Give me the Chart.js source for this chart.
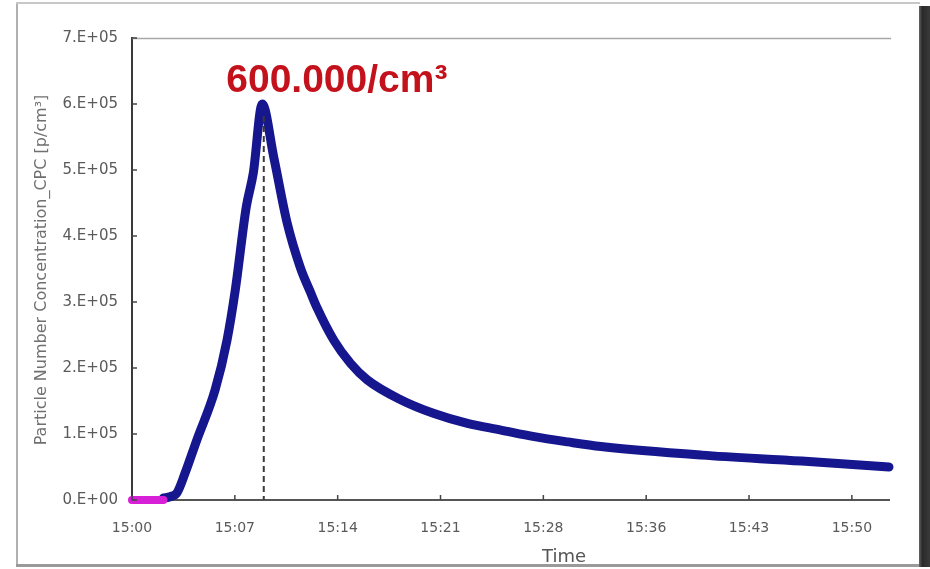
<!DOCTYPE html>
<html>
<head>
<meta charset="utf-8">
<script src="https://cdn.jsdelivr.net/npm/chart.js@4.4.1/dist/chart.umd.min.js"></script>
<style>
  html, body { margin: 0; padding: 0; background: #fff; }
  #wrap { width: 930px; height: 569px; position: relative; }
</style>
</head>
<body>
<div id="wrap"><canvas id="c" width="930" height="569"></canvas></div>
<script>
// Time is given in minutes after 15:00, concentration in particles per cm³.
const baselineMinutes = [0, 0.7, 1.4, 2.2];
const baselineValues  = [0, 0, 0, 0];

const minutes = [2.2, 2.67, 3.14, 3.72, 4.54, 5.82, 6.65, 7.23, 8.0, 8.49, 9.12,
                 9.92, 10.86, 11.79, 12.49, 12.96, 14.13, 15.30, 16.47, 18.81, 21.15, 23.49,
                 25.83, 28.16, 30.51, 32.84, 39.86, 46.88, 53.0];
const concentration = [3000, 5000, 10600, 41000, 91000, 167000, 242000, 318000, 444000, 495000, 600000,
                       520000, 420000, 352000, 315000, 291000, 242000, 207000, 182000, 152000, 131000, 116000,
                       106000, 96000, 88000, 81000, 68000, 59000, 50000];

const timeTickMinutes = [0, 7.2, 14.4, 21.6, 28.8, 36, 43.2, 50.4];
const timeTickLabels  = ['15:00', '15:07', '15:14', '15:21', '15:28', '15:36', '15:43', '15:50'];
const yTickLabels     = ['0.E+00', '1.E+05', '2.E+05', '3.E+05', '4.E+05', '5.E+05', '6.E+05', '7.E+05'];

const peakIndex = concentration.indexOf(Math.max(...concentration));
const peakMinute = minutes[peakIndex];
const peakValue = concentration[peakIndex];
const peakLabel = peakValue.toLocaleString('de-DE') + '/cm³';

const toPoints = (xs, ys) => xs.map((x, i) => ({ x: x, y: ys[i] }));

const decorations = {
  id: 'decorations',
  beforeDraw(chart) {
    const ctx = chart.ctx;
    ctx.save();
    ctx.fillStyle = '#ffffff';
    ctx.fillRect(0, 0, chart.width, chart.height);
    ctx.restore();
  },
  afterDatasetsDraw(chart) {
    const ctx = chart.ctx;
    const xs = chart.scales.x, ys = chart.scales.y;
    const area = chart.chartArea;
    ctx.save();
    // top edge of the plot area
    ctx.strokeStyle = '#a8a8a8';
    ctx.lineWidth = 1.5;
    ctx.beginPath();
    ctx.moveTo(area.left, area.top + 0.5);
    ctx.lineTo(area.right + 2, area.top + 0.5);
    ctx.stroke();
    // inward tick marks
    ctx.strokeStyle = '#444';
    ctx.lineWidth = 1.5;
    yTickLabels.forEach((_, i) => {
      const y = ys.getPixelForValue(i * 100000);
      ctx.beginPath();
      ctx.moveTo(area.left, y);
      ctx.lineTo(area.left + 5, y);
      ctx.stroke();
    });
    timeTickMinutes.forEach(m => {
      const x = xs.getPixelForValue(m);
      ctx.beginPath();
      ctx.moveTo(x, area.bottom);
      ctx.lineTo(x, area.bottom - 5);
      ctx.stroke();
    });
    // dashed drop line from the peak
    const px = xs.getPixelForValue(peakMinute) + 1.5;
    ctx.strokeStyle = '#3a3a3a';
    ctx.lineWidth = 2;
    ctx.setLineDash([6, 4]);
    ctx.beginPath();
    ctx.moveTo(px, ys.getPixelForValue(peakValue) + 12);
    ctx.lineTo(px, area.bottom);
    ctx.stroke();
    ctx.restore();
  },
  afterDraw(chart) {
    const ctx = chart.ctx;
    const xs = chart.scales.x;
    ctx.save();
    // peak annotation
    ctx.fillStyle = '#c4121c';
    ctx.font = 'bold 39px "Liberation Sans", Arial, sans-serif';
    ctx.textAlign = 'left';
    ctx.textBaseline = 'alphabetic';
    ctx.fillText(peakLabel, xs.getPixelForValue(peakMinute) - 36, 92);
    // axis titles
    ctx.fillStyle = '#707070';
    ctx.font = '16px "DejaVu Sans", sans-serif';
    ctx.translate(42, 270);
    ctx.rotate(-Math.PI / 2);
    ctx.textAlign = 'center';
    ctx.textBaseline = 'middle';
    ctx.fillText('Particle Number Concentration_CPC [p/cm³]', 0, 0);
    ctx.setTransform(1, 0, 0, 1, 0, 0);
    ctx.fillStyle = '#555';
    ctx.font = '18px "DejaVu Sans", sans-serif';
    ctx.textAlign = 'center';
    ctx.textBaseline = 'top';
    ctx.fillText('Time', 564, 548);
    // picture frame
    ctx.fillStyle = '#ffffff';
    ctx.fillRect(0, 566, 930, 3);
    ctx.strokeStyle = '#c8c8c8';
    ctx.lineWidth = 2;
    ctx.beginPath();
    ctx.moveTo(16, 3);
    ctx.lineTo(920, 3);
    ctx.stroke();
    ctx.strokeStyle = '#b0b0b0';
    ctx.beginPath();
    ctx.moveTo(17, 4);
    ctx.lineTo(17, 566);
    ctx.stroke();
    ctx.strokeStyle = '#9a9a9a';
    ctx.lineWidth = 3;
    ctx.beginPath();
    ctx.moveTo(16, 565.5);
    ctx.lineTo(921, 565.5);
    ctx.stroke();
    const g = ctx.createLinearGradient(918, 0, 930, 0);
    g.addColorStop(0, '#777');
    g.addColorStop(0.35, '#2a2a2a');
    g.addColorStop(1, '#3a3a3a');
    ctx.fillStyle = g;
    ctx.fillRect(919, 6, 11, 561);
    ctx.restore();
  }
};

new Chart(document.getElementById('c'), {
  type: 'line',
  data: {
    datasets: [
      {
        label: 'baseline',
        data: toPoints(baselineMinutes, baselineValues),
        borderColor: '#d81fd8',
        borderWidth: 8,
        pointRadius: 0,
        borderCapStyle: 'round',
        clip: false,
        order: 0
      },
      {
        label: 'CPC',
        data: toPoints(minutes, concentration),
        borderColor: '#16168e',
        borderWidth: 9,
        pointRadius: 0,
        cubicInterpolationMode: 'monotone',
        borderCapStyle: 'round',
        borderJoinStyle: 'round',
        clip: false,
        order: 1
      }
    ]
  },
  options: {
    responsive: false,
    animation: false,
    layout: { padding: { top: 38, right: 41, bottom: 0, left: 0 } },
    plugins: { legend: { display: false }, tooltip: { enabled: false } },
    scales: {
      x: {
        type: 'linear',
        min: 0,
        max: 53,
        afterFit(scale) { scale.height = 69; },
        afterBuildTicks(scale) { scale.ticks = timeTickMinutes.map(v => ({ value: v })); },
        grid: { display: false, drawTicks: false },
        border: { display: true, color: '#555', width: 2 },
        ticks: {
          autoSkip: false,
          maxRotation: 0,
          padding: 20,
          color: '#5a5a5a',
          font: { family: '"DejaVu Sans", sans-serif', size: 14 },
          callback: (v, i) => timeTickLabels[i]
        }
      },
      y: {
        min: 0,
        max: 700000,
        afterFit(scale) { scale.width = 132; },
        grid: { display: false, drawTicks: false },
        border: { display: true, color: '#3a3a3a', width: 2 },
        ticks: {
          stepSize: 100000,
          padding: 14,
          color: '#5a5a5a',
          font: { family: '"DejaVu Sans", sans-serif', size: 15 },
          callback: (v, i) => yTickLabels[i]
        }
      }
    }
  },
  plugins: [decorations]
});
</script>
</body>
</html>
